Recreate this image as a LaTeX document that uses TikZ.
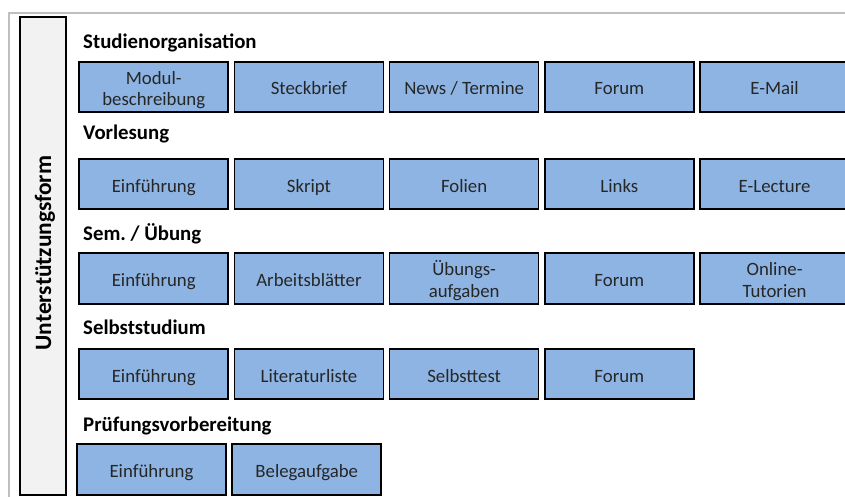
\documentclass[tikz,border=0pt]{standalone}
\usepackage{fontspec}
\setmainfont{Carlito}
\usetikzlibrary{positioning}

\definecolor{kachelblau}{RGB}{142,180,227}
\definecolor{rahmengrau}{RGB}{191,191,191}
\definecolor{formgrau}{RGB}{242,242,242}

\begin{document}
\begin{tikzpicture}[x=1pt, y=-1pt,
    kachel/.style={draw=black, line width=1.6pt, fill=kachelblau,
        minimum width=149pt, minimum height=50.5pt, inner sep=0pt,
        outer sep=0pt, align=center, text=black!85,
        text height=16pt, text depth=0pt,
        font=\fontsize{18.8}{21.7}\selectfont},
    zweizeilig/.style={text height=38pt},
    titel/.style={anchor=base west, inner sep=0pt,
        font=\fontsize{20.8}{24}\selectfont\bfseries},
    formbox/.style={draw=black, line width=1.6pt, fill=formgrau,
        minimum width=45.5pt, minimum height=478pt, inner sep=0pt,
        outer sep=0pt}]

        \useasboundingbox (0,0) rectangle (845,497);

        \def\d{6.2pt}

        % grauer Rahmen oben und links
        \draw[rahmengrau, line width=2pt] (8.5,497) -- (8.5,13.5) -- (845,13.5);

        % Unterstuetzungsform
        \node[formbox] (form) at (43,256) {};
        \node[rotate=90, font=\fontsize{23.4}{28}\selectfont\bfseries]
            (formtext) at (45,253) {Unterstützungsform};

        % Studienorganisation
        \begin{scope}
            \node[titel] (tSO) at (83,48.3) {Studienorganisation};
            \node[kachel, zweizeilig] (so1) at (153.75,87)
                {Modul-\\beschreibung};
            \node[kachel] (so2) [right=\d of so1] {Steckbrief};
            \node[kachel] (so3) [right=\d of so2] {News / Termine};
            \node[kachel] (so4) [right=\d of so3] {Forum};
            \node[kachel] (so5) [right=\d of so4] {E-Mail};
        \end{scope}

        % Vorlesung
        \begin{scope}
            \node[titel] (tVL) at (83,140) {Vorlesung};
            \node[kachel] (vl1) at (153.75,184) {Einführung};
            \node[kachel] (vl2) [right=\d of vl1] {Skript};
            \node[kachel] (vl3) [right=\d of vl2] {Folien};
            \node[kachel] (vl4) [right=\d of vl3] {Links};
            \node[kachel] (vl5) [right=\d of vl4] {E-Lecture};
        \end{scope}

        % Seminar / Uebung
        \begin{scope}
            \node[titel] (tUE) at (83,240) {Sem.\ / Übung};
            \node[kachel] (ue1) at (153.75,278.5) {Einführung};
            \node[kachel] (ue2) [right=\d of ue1] {Arbeitsblätter};
            \node[kachel, zweizeilig] (ue3) [right=\d of ue2]
                {Übungs-\\aufgaben};
            \node[kachel] (ue4) [right=\d of ue3] {Forum};
            \node[kachel, zweizeilig] (ue5) [right=\d of ue4]
                {Online-\\Tutorien};
        \end{scope}

        % Selbststudium
        \begin{scope}
            \node[titel] (tSS) at (83,334) {Selbststudium};
            \node[kachel] (ss1) at (153.75,374) {Einführung};
            \node[kachel] (ss2) [right=\d of ss1] {Literaturliste};
            \node[kachel] (ss3) [right=\d of ss2] {Selbsttest};
            \node[kachel] (ss4) [right=\d of ss3] {Forum};
        \end{scope}

        % Pruefungsvorbereitung
        \begin{scope}
            \node[titel] (tPV) at (83,431.7) {Prüfungsvorbereitung};
            \node[kachel] (pv1) at (151.5,469.5) {Einführung};
            \node[kachel] (pv2) [right=\d of pv1] {Belegaufgabe};
        \end{scope}

\end{tikzpicture}
\end{document}
